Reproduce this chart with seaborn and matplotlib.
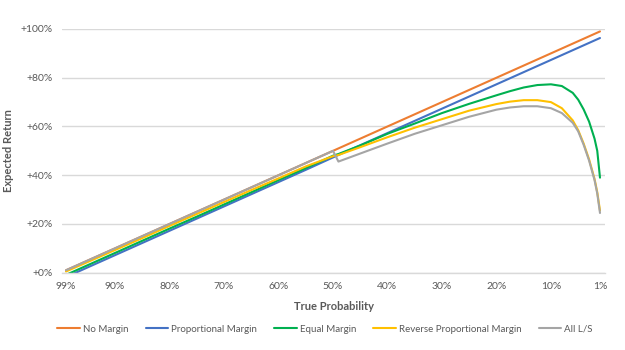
import matplotlib
matplotlib.use("Agg")
import matplotlib.pyplot as plt
import seaborn as sns
import pandas as pd
from matplotlib.ticker import FuncFormatter

# True probability (%)
prob = [99, 95, 90, 85, 80, 75, 70, 65, 60, 55, 50, 49, 45, 40, 35, 30, 25, 20,
        17.5, 15, 12.5, 10, 8, 6, 5, 4, 3, 2, 1.5, 1]

no_margin = [1, 5, 10, 15, 20, 25, 30, 35, 40, 45, 50, 51, 55, 60, 65, 70, 75, 80,
             82.5, 85, 87.5, 90, 92, 94, 95, 96, 97, 98, 98.5, 99]
proportional = [-1.8, 2.2, 7.2, 12.2, 17.2, 22.2, 27.2, 32.2, 37.2, 42.2, 47.3, 48.3,
                52.3, 57.3, 62.3, 67.3, 72.3, 77.3, 79.8, 82.3, 84.8, 87.3, 89.3,
                91.3, 92.3, 93.3, 94.3, 95.3, 95.8, 96.3]
equal = [-0.9, 3.1, 8.1, 13.1, 18.1, 23.0, 28.0, 33.0, 38.0, 42.9, 48.0, 48.7,
         52.2, 57.0, 61.2, 65.5, 69.3, 72.8, 74.5, 76.0, 77.0, 77.3, 76.6, 73.8,
         71.0, 67.0, 62.0, 55.0, 50.0, 39.0]
reverse = [0.5, 4.4, 9.3, 14.2, 19.2, 24.1, 29.0, 33.9, 38.7, 43.6, 47.8, 48.3,
           51.5, 55.6, 59.5, 63.0, 66.5, 69.2, 70.2, 70.8, 70.8, 70.0, 67.5, 62.5,
           58.5, 53.0, 46.5, 38.5, 33.0, 25.5]
all_ls = [1, 5, 10, 15, 20, 25, 30, 35, 40, 45, 50, 45.6, 48.9, 53.0, 57.0, 60.5,
          64.0, 66.9, 67.8, 68.3, 68.3, 67.5, 65.5, 61.5, 58.0, 52.5, 46.0, 38.0,
          32.5, 24.5]

series_names = ["No Margin", "Proportional Margin", "Equal Margin",
                "Reverse Proportional Margin", "All L/S"]
colors = ["#ED7D31", "#4472C4", "#00B050", "#FFC000", "#A5A5A5"]

x_ticks = [99, 90, 80, 70, 60, 50, 40, 30, 20, 10, 1]
x_tick_labels = ["99%", "90%", "80%", "70%", "60%", "50%", "40%", "30%", "20%", "10%", "1%"]
y_ticks = [0, 20, 40, 60, 80, 100]

rows = []
for name, vals in zip(series_names, [no_margin, proportional, equal, reverse, all_ls]):
    for p, v in zip(prob, vals):
        rows.append({"prob": p, "ret": v, "series": name})
df = pd.DataFrame(rows)

sns.set_style("white")
plt.rcParams["font.family"] = ["Lato", "DejaVu Sans"]

fig = plt.figure(figsize=(6.25, 3.5), dpi=100)
ax = fig.add_axes([62 / 625, 1 - 272.7 / 350, (605 - 62) / 625, (272.7 - 29) / 350])

sns.lineplot(data=df, x="prob", y="ret", hue="series", hue_order=series_names,
             palette=colors, estimator=None, sort=True, linewidth=1.5, ax=ax)

ax.set_xlim(99.73, 0.08)
ax.set_ylim(0, 100)
ax.set_xticks(x_ticks)
ax.set_xticklabels(x_tick_labels)
ax.set_yticks(y_ticks)
ax.yaxis.set_major_formatter(FuncFormatter(lambda v, _: f"+{v:.0f}%"))
ax.tick_params(axis="both", length=0, labelsize=7.5, labelcolor="#595959")
ax.tick_params(axis="y", pad=7)
ax.tick_params(axis="x", pad=7)
ax.grid(axis="y", color="#D9D9D9", linewidth=1)
ax.set_axisbelow(True)
for s in ["top", "right", "left"]:
    ax.spines[s].set_visible(False)
ax.spines["bottom"].set_color("#D9D9D9")
ax.spines["bottom"].set_linewidth(1)

ax.set_xlabel("True Probability", fontsize=8, fontweight="bold", color="#595959", labelpad=7)
ax.set_ylabel("Expected Return", fontsize=8, fontweight="bold", color="#595959")
ax.yaxis.set_label_coords((14 - 62) / 543, 0.5)

handles, labels = ax.get_legend_handles_labels()
ax.get_legend().remove()
fig.legend(handles, labels, loc="center", bbox_to_anchor=(0.52, 1 - 329 / 350),
           ncol=5, frameon=False, fontsize=7, handlelength=2.3, columnspacing=1.8,
           handletextpad=0.3, labelcolor="#595959")

fig.savefig("out.png", dpi=100)
